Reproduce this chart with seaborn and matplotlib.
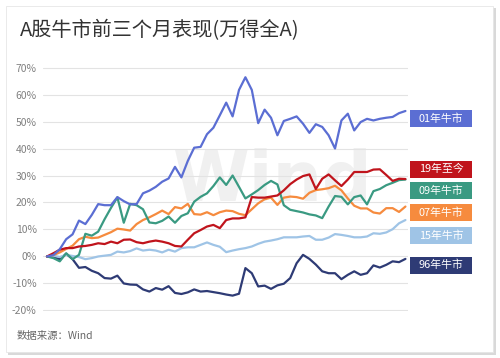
import matplotlib
matplotlib.use("Agg")
import matplotlib.pyplot as plt
import matplotlib.patches as mpatches
import matplotlib.transforms as mtransforms
import numpy as np
import pandas as pd
import seaborn as sns

# ── Data (cumulative return, %, per trading day) ─────────────────────
days = list(range(57))

bull_01 = [0, 0.5, 2.7, 6.4, 8.2, 13.3, 12, 15.4, 19.4, 19, 19, 22, 20.5, 19.3, 19.4,
           23.4, 24.4, 25.8, 27.7, 28.9, 33.2, 29.3, 35.4, 40.3, 40.6, 45.3, 47.7, 52.3,
           57, 51.9, 61.7, 66.4, 61.7, 49.4, 54.4, 51.4, 44.9, 50.2, 51, 51.9, 49.2, 45.8,
           49, 48, 44.9, 40, 50.4, 52.9, 46.7, 49.8, 51, 50.4, 51, 51.4, 51.7, 53.1, 53.9]
bull_19 = [0, 1.2, 2.5, 3.1, 3.1, 3.7, 3.9, 4.3, 4.9, 4.6, 5.5, 4.9, 6.2, 6.3, 5.3,
           4.9, 5.5, 5.9, 5.5, 4.9, 3.9, 3.7, 6.2, 8.6, 9.8, 11.1, 11.7, 10.5, 13.5, 14.1,
           14.1, 14.5, 22, 21.8, 21.8, 22.2, 22.6, 24.5, 26.8, 28.5, 29.8, 30.4, 25, 28.8,
           30.4, 28.2, 26.1, 28.5, 31.3, 31.3, 31.3, 32.2, 32.3, 30.2, 28, 28.8, 28.7]
bull_09 = [0, -0.6, -1.8, 1.2, -1, 0.6, 8.4, 7.7, 9.2, 13.8, 18, 21.9, 12.5, 19.5, 19,
           17.5, 12.6, 12.3, 13.2, 14.8, 12.5, 15, 16, 20.3, 22.1, 23.4, 26.1, 29.3, 26.5,
           30, 25.8, 21.5, 23, 24.6, 26.5, 28, 26.7, 19, 17.3, 16.8, 16.3, 15.6, 15.2, 14.2,
           18.5, 22.4, 22.1, 19.3, 22, 22.6, 19.3, 24.2, 25, 26.4, 27.3, 28.3, 28.5]
bull_07 = [0, 0.5, 1.5, 2.8, 4, 6.4, 7.3, 6.8, 7, 8, 9, 10.3, 10, 9.6, 12, 13.5, 14.5,
           15.7, 17, 15.7, 18.3, 17.8, 19.5, 15.7, 15.5, 16.4, 15.3, 16.4, 17, 16.8, 15.8,
           15.3, 17.5, 19.7, 21.2, 21.8, 19.1, 21.8, 22.2, 22, 21.4, 23.6, 24.6, 24.9, 25.3,
           26.2, 24.5, 21.5, 18.8, 17.8, 17.8, 16.3, 15.9, 17.9, 17.9, 16.5, 18.5]
bull_15 = [0, 0.3, -0.2, 0.6, 0.2, -0.2, -1, -0.6, 0, 0.3, 0.6, 1.8, 1.5, 2, 3, 2.2,
           2.5, 2.2, 1.5, 2.5, 1.8, 3.1, 3.4, 3.4, 4.3, 5.2, 4.3, 3.6, 1.6, 2.2, 2.7, 3.1,
           3.7, 4.7, 5.5, 5.9, 6.4, 7.1, 7.1, 7.1, 7.4, 7.6, 6.2, 6.2, 7, 8.3, 8, 7.6, 7.1,
           7.1, 7.4, 8.6, 8.4, 8.9, 10.1, 12.3, 13.5]
bull_96 = [0, -0.3, -1, 1, -1, -4.2, -3.9, -5.3, -6.2, -8, -8.2, -7.1, -10, -10.4, -10.5,
           -12.2, -13, -11.7, -12.3, -11, -13.5, -13.9, -13.3, -12.2, -13, -12.8, -13.2,
           -13.6, -14.1, -14.5, -13.8, -4.3, -6.2, -11.1, -10.8, -12, -10.7, -10.1, -8,
           -2.5, 0.6, -0.9, -3, -5.5, -6.2, -6.2, -8.4, -6.8, -5.5, -6.8, -6.2, -3.3, -4.1,
           -3.1, -1.8, -2.1, -0.9]

markets = ["01年牛市", "19年至今", "09年牛市", "07年牛市", "15年牛市", "96年牛市"]
series = [bull_01, bull_19, bull_09, bull_07, bull_15, bull_96]
y_ticks = [-20, -10, 0, 10, 20, 30, 40, 50, 60, 70]

# ── Style / layout ───────────────────────────────────────────────────
colors = ["#5b6ed3", "#c0141c", "#3a9a82", "#f68b3e", "#9fc4e6", "#2e3b75"]
label_y = [51.2, 32.4, 24.4, 16.2, 7.8, -3.2]   # tag centres (%), right of plot

sns.set_theme(style="white")
plt.rcParams["font.family"] = ["Noto Sans CJK SC", "DejaVu Sans"]

df = pd.concat(
    [pd.DataFrame({"day": days, "ret": s, "market": m}) for m, s in zip(markets, series)],
    ignore_index=True,
)

W, H = 500, 358
fig = plt.figure(figsize=(W / 100, H / 100), dpi=100)
fig.patch.set_facecolor("white")

# card with soft shadow
fig.patches.append(mpatches.Rectangle((8 / W, 1 - 355 / H), 488 / W, 347 / H,
                                      transform=fig.transFigure, facecolor="#d9d9d9",
                                      edgecolor="none", zorder=-2))
fig.patches.append(mpatches.Rectangle((6 / W, 1 - 352 / H), 487 / W, 346 / H,
                                      transform=fig.transFigure, facecolor="white",
                                      edgecolor="#e6e6e6", lw=0.6, zorder=-1))

ax = fig.add_axes([43 / W, 1 - 311 / H, 365 / W, 244 / H])
ax.set_facecolor("none")

# faint watermark
ax.text(0.63, 0.53, "Wind", transform=ax.transAxes, fontsize=50, fontweight="bold",
        color="#f0f0f0", ha="center", va="center", zorder=0, family="DejaVu Sans")

sns.lineplot(data=df, x="day", y="ret", hue="market", hue_order=markets[::-1],
             palette=dict(zip(markets, colors)), linewidth=1.6, legend=False, ax=ax,
             zorder=3)

ax.set_xlim(-0.62, 56.4)
ax.set_ylim(-20.2, 70.2)
ax.set_yticks(y_ticks)
ax.set_yticklabels([f"{v}%" for v in y_ticks])
ax.set_xticks([])
ax.grid(axis="y", color="#e3e3e3", lw=0.8)
ax.set_axisbelow(True)
for sp in ax.spines.values():
    sp.set_visible(False)
ax.tick_params(axis="y", length=0, pad=4.5, labelsize=7.5, labelcolor="#808080")
ax.set_xlabel("")
ax.set_ylabel("")

# right-hand tags
trans = mtransforms.blended_transform_factory(fig.transFigure, ax.transData)
box_h = 17 / 244 * 90.4
for name, c, y in zip(markets, colors, label_y):
    ax.add_patch(mpatches.Rectangle((410 / W, y - box_h / 2), 62 / W, box_h,
                                    transform=trans, facecolor=c, edgecolor="none",
                                    clip_on=False, zorder=4))
    ax.text(441 / W, y, name, transform=trans, ha="center", va="center",
            color="white", fontsize=7.8, clip_on=False, zorder=5)

fig.text(20 / W, 1 - 31 / H, "A股牛市前三个月表现(万得全A)", fontsize=14.5,
         color="#333333", va="center", ha="left")
fig.text(17 / W, 1 - 336 / H, "数据来源：Wind", fontsize=7.5, color="#666666",
         va="center", ha="left")

fig.savefig("out.png", dpi=100)
plt.close(fig)
